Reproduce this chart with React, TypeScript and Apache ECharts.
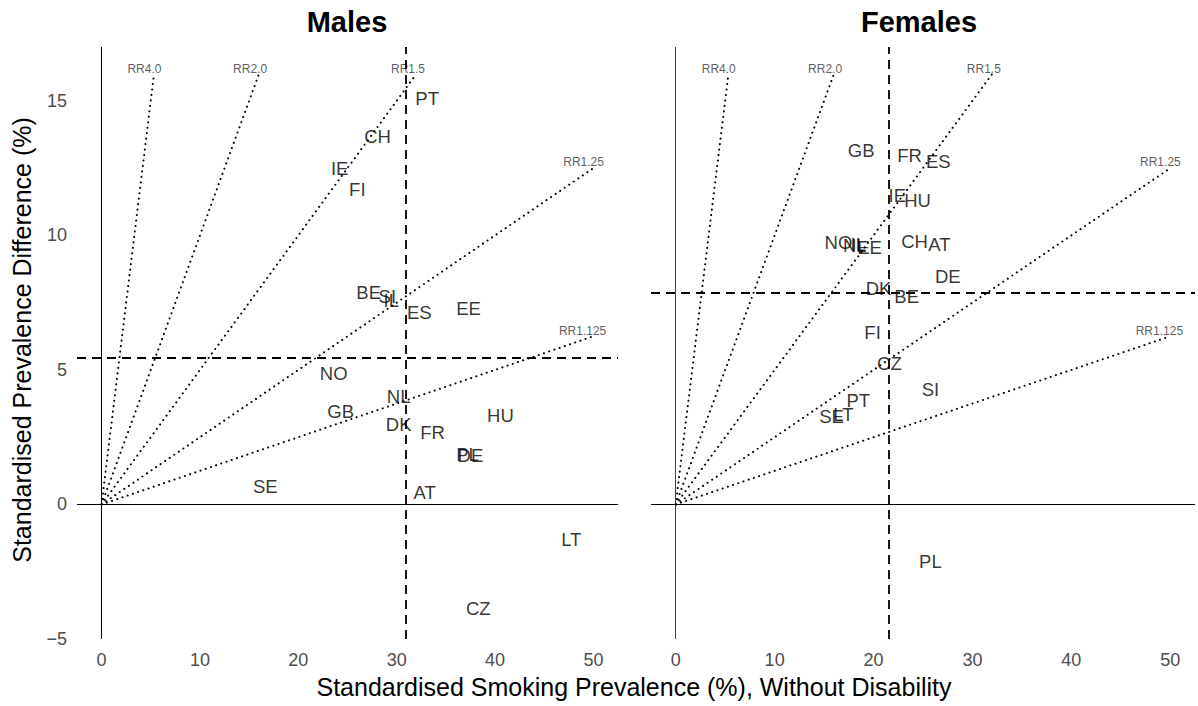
import React, { useEffect, useRef } from "react";
import * as echarts from "echarts";

// Country labels – Males
const maleCodes = ["PT", "CH", "IE", "FI", "BE", "SI", "IL", "ES", "EE", "NO", "NL", "GB", "DK", "FR", "HU", "DE", "PL", "SE", "AT", "LT", "CZ"];
const maleX = [33.1, 28.05, 24.2, 26.0, 27.15, 29.05, 29.45, 32.3, 37.3, 23.6, 30.2, 24.3, 30.2, 33.65, 40.55, 37.5, 37.2, 16.65, 32.85, 47.75, 38.3];
const maleY = [15.1, 13.67, 12.5, 11.7, 7.87, 7.72, 7.58, 7.13, 7.28, 4.86, 4.01, 3.45, 2.97, 2.67, 3.3, 1.82, 1.86, 0.67, 0.45, -1.3, -3.85];

// Country labels – Females
const femaleCodes = ["GB", "FR", "ES", "IE", "HU", "NO", "NL", "IL", "EE", "CH", "AT", "DE", "DK", "BE", "FI", "CZ", "SI", "PT", "SE", "LT", "PL"];
const femaleX = [18.75, 23.65, 26.55, 22.4, 24.45, 16.45, 18.1, 18.45, 19.6, 24.15, 26.65, 27.5, 20.5, 23.35, 19.9, 21.6, 25.75, 18.45, 15.75, 16.95, 25.75];
const femaleY = [13.15, 12.96, 12.74, 11.47, 11.29, 9.73, 9.62, 9.65, 9.54, 9.77, 9.65, 8.47, 8.02, 7.72, 6.39, 5.24, 4.27, 3.86, 3.27, 3.34, -2.12];

// Reference RR lines (from origin to end point) and their labels
const rrNames = ["RR4.0", "RR2.0", "RR1.5", "RR1.25", "RR1.125"];
const rrEndX = [5.33, 16, 32, 50, 50];
const rrEndY = [16, 16, 16, 12.5, 6.25];
const rrLabelX = [4.35, 15.1, 31.15, 49.0, 48.9];
const rrLabelY = [16.2, 16.2, 16.2, 12.74, 6.46];

// Mean reference lines
const meanX = [30.9, 21.5]; // males, females
const meanY = [5.46, 7.87];

// Ticks
const xTicks = [0, 10, 20, 30, 40, 50];
const yTicks = [-5, 0, 5, 10, 15];

const FONT = "'Liberation Sans', Arial, sans-serif";

function fmt(v: number) {
  return v < 0 ? "\u2212" + Math.abs(v) : String(v);
}

export default function App() {
  const ref = useRef<HTMLDivElement>(null);

  useEffect(() => {
    if (!ref.current) return;
    const chart = echarts.init(ref.current, undefined, { renderer: "svg" });

    const grids = [
      { left: 77, top: 47, width: 541, height: 592 },
      { left: 651, top: 47, width: 544, height: 592 },
    ];

    const xAxes = grids.map((_, i) => ({
      type: "value",
      gridIndex: i,
      min: -2.5,
      max: 52.5,
      axisLine: { show: false },
      axisTick: { show: false },
      splitLine: { show: false },
      axisLabel: {
        customValues: xTicks,
        color: "#4d4d4d",
        fontSize: 18,
        fontFamily: FONT,
        margin: 12,
        formatter: (v: number) => fmt(v),
      },
    }));

    const yAxes = grids.map((_, i) => ({
      type: "value",
      gridIndex: i,
      min: -5,
      max: 17,
      axisLine: { show: false },
      axisTick: { show: false },
      splitLine: { show: false },
      axisLabel: {
        show: i === 0,
        customValues: yTicks,
        color: "#4d4d4d",
        fontSize: 18,
        fontFamily: FONT,
        margin: 10,
        formatter: (v: number) => fmt(v),
      },
    }));

    const series: any[] = [];
    [0, 1].forEach((g) => {
      series.push({
        type: "scatter",
        xAxisIndex: g,
        yAxisIndex: g,
        data: [],
        silent: true,
        markLine: {
          silent: true,
          symbol: ["none", "none"],
          label: { show: false },
          animation: false,
          data: [
            { xAxis: 0, lineStyle: { type: "solid", color: g === 0 ? "#000" : "#444", width: 1 } },
            { yAxis: 0, lineStyle: { type: "solid", color: "#000", width: 1 } },
            { xAxis: meanX[g], lineStyle: { type: [9, 6], color: "#000", width: 1.8 } },
            { yAxis: meanY[g], lineStyle: { type: [9, 6], color: "#000", width: 1.8 } },
          ],
        },
      });
      rrNames.forEach((name, k) => {
        series.push({
          type: "line",
          xAxisIndex: g,
          yAxisIndex: g,
          data: [
            [0, 0],
            [rrEndX[k], rrEndY[k]],
          ],
          symbol: "none",
          silent: true,
          lineStyle: { color: "#000", width: 2, type: [0.1, 5.4], cap: "round" },
        });
      });
      series.push({
        type: "scatter",
        xAxisIndex: g,
        yAxisIndex: g,
        symbolSize: 0,
        silent: true,
        data: rrNames.map((n, k) => [rrLabelX[k], rrLabelY[k], n]),
        label: {
          show: true,
          position: "inside",
          formatter: (p: any) => p.value[2],
          color: "#333",
          fontSize: 12,
          fontFamily: FONT,
        },
      });
      const codes = g === 0 ? maleCodes : femaleCodes;
      const xs = g === 0 ? maleX : femaleX;
      const ys = g === 0 ? maleY : femaleY;
      series.push({
        type: "scatter",
        xAxisIndex: g,
        yAxisIndex: g,
        symbolSize: 0,
        silent: true,
        z: 5,
        data: codes.map((c, k) => [xs[k], ys[k], c]),
        label: {
          show: true,
          position: "inside",
          formatter: (p: any) => p.value[2],
          color: "#000",
          fontSize: 18.5,
          fontFamily: FONT,
        },
      });
    });

    chart.setOption({
      animation: false,
      backgroundColor: "#fff",
      grid: grids,
      xAxis: xAxes,
      yAxis: yAxes,
      series,
      graphic: [
        {
          type: "text",
          x: 347,
          y: 22,
          style: { text: "Males", font: `bold 29px ${FONT}`, fill: "#000", align: "center", verticalAlign: "middle" },
        },
        {
          type: "text",
          x: 919,
          y: 22,
          style: { text: "Females", font: `bold 29px ${FONT}`, fill: "#000", align: "center", verticalAlign: "middle" },
        },
        {
          type: "text",
          x: 634,
          y: 687,
          style: {
            text: "Standardised Smoking Prevalence (%), Without Disability",
            font: `25px ${FONT}`,
            fill: "#000",
            align: "center",
            verticalAlign: "middle",
          },
        },
        {
          type: "text",
          x: 22,
          y: 340,
          rotation: Math.PI / 2,
          style: {
            text: "Standardised Prevalence Difference (%)",
            font: `25px ${FONT}`,
            fill: "#000",
            align: "center",
            verticalAlign: "middle",
          },
        },
      ],
    });

    return () => chart.dispose();
  }, []);

  return (
    <div
      ref={ref}
      style={{ position: "fixed", left: 0, top: 0, width: 1198, height: 706, background: "#fff" }}
    />
  );
}
